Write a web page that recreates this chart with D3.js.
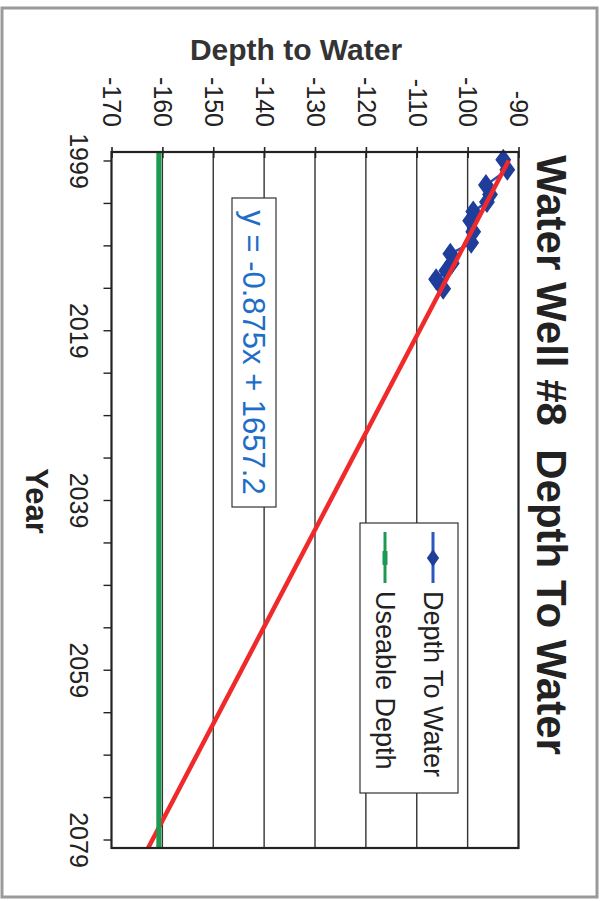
<!DOCTYPE html>
<html>
<head>
<meta charset="utf-8">
<script src="https://cdn.jsdelivr.net/npm/d3@7/dist/d3.min.js"></script>
<style>
  html, body { margin: 0; padding: 0; background: #fff; }
  svg { display: block; }
  text { font-family: "Liberation Sans", Arial, sans-serif; }
</style>
</head>
<body>
<svg id="chart" width="609" height="901"></svg>
<script>
// ---- data ----
const years = [1998.9, 2000.1, 2001.9, 2003.0, 2003.9, 2005.0, 2006.1, 2007.4, 2008.7, 2010.0, 2011.1, 2012.0, 2013.0, 2014.1];
const depths = [-93.0, -92.2, -96.4, -95.6, -96.2, -98.9, -99.5, -98.9, -99.3, -103.4, -103.1, -104.2, -106.2, -104.8];
const usableDepth = -160.7;
const usableYears = [1998, 2080];
const trendSlope = -0.875;
const trendIntercept = 1657.2;
const trendYears = [1999, 2080];
const depthTicks = [-170, -160, -150, -140, -130, -120, -110, -100, -90];
const gridTicks = [-160, -150, -140, -130, -120, -110, -100];
const yearTicks = [1999, 2004, 2009, 2014, 2019, 2024, 2029, 2034, 2039, 2044, 2049, 2054, 2059, 2064, 2069, 2074, 2079];
const yearLabels = [1999, 2019, 2039, 2059, 2079];
const titleText = "Water Well #8\u00a0\u00a0Depth To Water";
const equationText = "y = -0.875x + 1657.2";
const legendNames = ["Depth To Water", "Useable Depth"];

// ---- layout (chart is rotated 90° clockwise: years run down, depth runs left→right) ----
const plot = { left: 111.5, right: 518.5, top: 152, bottom: 848 };
const svg = d3.select("#chart");

// page frame
svg.append("rect").attr("x", 2).attr("y", 8).attr("width", 595).attr("height", 889)
  .attr("fill", "none").attr("stroke", "#9a9a9a").attr("stroke-width", 3);

const yearScale = d3.scaleLinear().domain([1998, 2080]).range([plot.top, plot.bottom]);
const depthScale = d3.scaleLinear().domain([-170, -90]).range([plot.left, plot.right]);

// grid lines
svg.append("g").selectAll("line").data(gridTicks).join("line")
  .attr("x1", d => depthScale(d)).attr("x2", d => depthScale(d))
  .attr("y1", plot.top).attr("y2", plot.bottom)
  .attr("stroke", "#333").attr("stroke-width", 1.4);

// depth axis (top)
const depthAxis = d3.axisTop(depthScale).tickValues(depthTicks).tickSize(5).tickFormat(d => String(d));
const gD = svg.append("g").attr("transform", `translate(0,${plot.top})`).call(depthAxis);
gD.select(".domain").remove();
gD.selectAll(".tick line").attr("y1", -5).attr("y2", 6).attr("stroke", "#222").attr("stroke-width", 1.6);
gD.selectAll(".tick text")
  .attr("x", 0).attr("y", 0).attr("dy", "0.35em")
  .attr("transform", "translate(0,-25) rotate(90)")
  .attr("text-anchor", "end")
  .attr("font-size", 25).attr("fill", "#222")
  .style("font-family", "'Liberation Sans', Arial, sans-serif");

// year axis (left)
const yearAxis = d3.axisLeft(yearScale).tickValues(yearTicks).tickSize(8)
  .tickFormat(d => yearLabels.includes(d) ? String(d) : "");
const gY = svg.append("g").attr("transform", `translate(${plot.left},0)`).call(yearAxis);
gY.select(".domain").remove();
gY.selectAll(".tick line").attr("stroke", "#222").attr("stroke-width", 1.4);
gY.selectAll(".tick text")
  .attr("x", 0).attr("dy", 0)
  .attr("transform", "translate(-42,0) rotate(90)")
  .attr("text-anchor", "middle")
  .attr("font-size", 25).attr("fill", "#222")
  .style("font-family", "'Liberation Sans', Arial, sans-serif");

const lineGen = d3.line().x(d => depthScale(d[1])).y(d => yearScale(d[0]));

// data series
const seriesData = years.map((y, i) => [y, depths[i]]);
svg.append("path").datum(seriesData).attr("d", lineGen)
  .attr("fill", "none").attr("stroke", "#2a4fb0").attr("stroke-width", 2.5);
const diamond = d3.symbol().type(d3.symbolDiamond).size(115);
svg.append("g").selectAll("path").data(seriesData).join("path")
  .attr("d", diamond)
  .attr("transform", d => `translate(${depthScale(d[1])},${yearScale(d[0])}) scale(1.25,1)`)
  .attr("fill", "#1f3d9a").attr("stroke", "#1f3d9a").attr("stroke-width", 1);

// trendline (red)
const trendData = trendYears.map(y => [y, trendSlope * y + trendIntercept]);
svg.append("path").datum(trendData).attr("d", lineGen)
  .attr("fill", "none").attr("stroke", "#f02a2a").attr("stroke-width", 4.5);

// useable depth (green)
const usableData = usableYears.map(y => [y, usableDepth]);
svg.append("path").datum(usableData).attr("d", lineGen)
  .attr("fill", "none").attr("stroke", "#1d9a52").attr("stroke-width", 5);

// plot border
svg.append("rect").attr("x", plot.left).attr("y", plot.top)
  .attr("width", plot.right - plot.left).attr("height", plot.bottom - plot.top)
  .attr("fill", "none").attr("stroke", "#222").attr("stroke-width", 2.2);

// equation box
const eqBox = { x: 232, y: 198, w: 44, h: 309 };
svg.append("rect").attr("x", eqBox.x).attr("y", eqBox.y).attr("width", eqBox.w).attr("height", eqBox.h)
  .attr("fill", "#fff").attr("stroke", "#333").attr("stroke-width", 1.2);
svg.append("text").text(equationText)
  .attr("transform", `translate(${eqBox.x + eqBox.w / 2},${eqBox.y + eqBox.h / 2}) rotate(90)`)
  .attr("text-anchor", "middle").attr("dy", "0.35em")
  .attr("font-size", 31).attr("fill", "#1e6ec8");

// legend
const lg = { x: 360, y: 523, w: 98, h: 270 };
svg.append("rect").attr("x", lg.x).attr("y", lg.y).attr("width", lg.w).attr("height", lg.h)
  .attr("fill", "#fff").attr("stroke", "#333").attr("stroke-width", 1.2);
const legendX = [433, 385];
const legendColors = ["#2a57c0", "#1d9a52"];
legendNames.forEach((name, i) => {
  const cx = legendX[i];
  svg.append("line").attr("x1", cx).attr("x2", cx).attr("y1", 532).attr("y2", 583)
    .attr("stroke", legendColors[i]).attr("stroke-width", 3);
  if (i === 0) {
    svg.append("path").attr("d", d3.symbol().type(d3.symbolDiamond).size(90)())
      .attr("transform", `translate(${cx},558) scale(1.2,1)`).attr("fill", "#1f3d9a");
  } else {
    svg.append("rect").attr("x", cx - 2.5).attr("y", 551).attr("width", 5).attr("height", 14)
      .attr("fill", legendColors[i]);
  }
  svg.append("text").text(name)
    .attr("transform", `translate(${cx},591) rotate(90)`)
    .attr("text-anchor", "start").attr("dy", "0.35em")
    .attr("font-size", 27).attr("fill", "#222");
});

// titles
svg.append("text").text(titleText)
  .attr("transform", "translate(537,455) rotate(90)")
  .attr("text-anchor", "middle").attr("font-weight", "bold")
  .attr("font-size", 42).attr("fill", "#222");
svg.append("text").text("Depth to Water")
  .attr("x", 296).attr("y", 60)
  .attr("text-anchor", "middle").attr("font-weight", "bold")
  .attr("font-size", 30).attr("fill", "#333");
svg.append("text").text("Year")
  .attr("transform", "translate(26,501) rotate(90)")
  .attr("text-anchor", "middle").attr("font-weight", "bold")
  .attr("font-size", 31).attr("fill", "#222");
</script>
</body>
</html>
